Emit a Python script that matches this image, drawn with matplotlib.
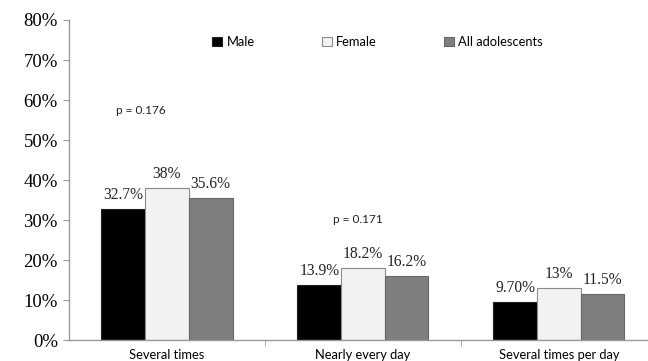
import matplotlib.pyplot as plt
import numpy as np

categories = ['Several times', 'Nearly every day', 'Several times per day']
male = [32.7, 13.9, 9.7]
female = [38, 18.2, 13]
everyone = [35.6, 16.2, 11.5]
male_txt = ['32.7%', '13.9%', '9.70%']
female_txt = ['38%', '18.2%', '13%']
everyone_txt = ['35.6%', '16.2%', '11.5%']
p_values = ['p = 0.176', 'p = 0.171']
p_pos = [(-0.26, 57.5), (0.85, 30.3)]

serif = 'Liberation Serif'
sans = 'Lato'

fig = plt.figure(figsize=(6.48, 3.61), dpi=100)
ax = fig.add_axes([0.1065, 0.0568, 0.907, 0.8878])

x = np.arange(len(categories))
w = 0.223
b1 = ax.bar(x - w, male, w, color='black', edgecolor='#222222', linewidth=0.8, label='Male')
b2 = ax.bar(x, female, w, color='#f2f2f2', edgecolor='#8a8a8a', linewidth=0.8, label='Female')
b3 = ax.bar(x + w, everyone, w, color='#7f7f7f', edgecolor='#666666', linewidth=0.8, label='All adolescents')

# value labels
for bars, txt in [(b1, male_txt), (b2, female_txt), (b3, everyone_txt)]:
    for bar, t in zip(bars, txt):
        ax.text(bar.get_x() + bar.get_width() / 2, bar.get_height() + 1.5, t,
                ha='center', va='bottom', fontsize=11.2, family=serif, color='#222222')

for (px, py), t in zip(p_pos, p_values):
    ax.text(px, py, t, ha='left', va='center', fontsize=8.5, family=sans, color='#222222')

ax.set_xlim(-0.5, 2.5)
ax.set_ylim(0, 80)
ax.set_yticks(np.arange(0, 81, 10))
ax.set_yticklabels([f'{v}%' for v in range(0, 81, 10)], family=serif, fontsize=13.5)
ax.set_xticks(x)
ax.set_xticklabels(categories, family=sans, fontsize=9.3)
ax.tick_params(axis='x', length=0, pad=6)
ax.tick_params(axis='y', length=4, color='#999999', pad=4)
ax.set_xticks([0.5, 1.5], minor=True)
ax.tick_params(axis='x', which='minor', length=4, color='#999999')

for s in ['top', 'right']:
    ax.spines[s].set_visible(False)
for s in ['left', 'bottom']:
    ax.spines[s].set_color('#999999')
    ax.spines[s].set_linewidth(1)

ax.legend(ncol=3, loc='upper left', bbox_to_anchor=(0.233, 0.97), frameon=False,
          prop={'family': sans, 'size': 9.3}, handlelength=0.75, handleheight=0.75,
          handletextpad=0.35, columnspacing=5.2, borderpad=0)

fig.savefig('out.png', dpi=100)
